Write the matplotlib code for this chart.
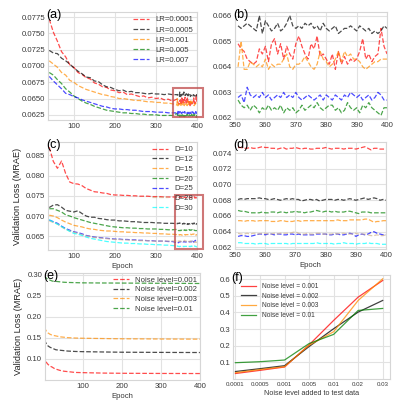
import numpy as np
import matplotlib.pyplot as plt
from matplotlib.patches import Rectangle

plt.rcParams['font.family'] = ['Liberation Sans', 'DejaVu Sans']

# ---- panel (a)/(b): learning rate ----
ep_coarse = np.arange(40, 341, 10)
ep_fine = np.arange(351, 401)
lr_labels = ['LR=0.0001', 'LR=0.0005', 'LR=0.001', 'LR=0.005', 'LR=0.007']
lr_colors = ['red', 'black', 'darkorange', 'green', 'blue']

a_red = [0.0772, 0.0752, 0.0738, 0.0722, 0.0714, 0.0702, 0.0698, 0.0690, 0.0687, 0.0682, 0.0680, 0.0674, 0.0672, 0.0668, 0.0667, 0.0663,
         0.0662, 0.0659, 0.0660, 0.0656, 0.0657, 0.0655, 0.0653, 0.0654, 0.0651, 0.0652, 0.0650, 0.0651, 0.0648, 0.0649, 0.0646]
a_black = [0.0724, 0.0720, 0.0719, 0.0712, 0.0708, 0.0703, 0.0697, 0.0692, 0.0688, 0.0683, 0.0682, 0.0677, 0.0676, 0.0671, 0.0668, 0.0667,
           0.0664, 0.0662, 0.0663, 0.0660, 0.0661, 0.0659, 0.0659, 0.0658, 0.0657, 0.0658, 0.0657, 0.0657, 0.0656, 0.0657, 0.0656]
a_orange = [0.0708, 0.0703, 0.0698, 0.0690, 0.0686, 0.0678, 0.0675, 0.0670, 0.0667, 0.0664, 0.0662, 0.0660, 0.0658, 0.0656, 0.0655, 0.0653,
            0.0652, 0.0650, 0.0650, 0.0649, 0.0648, 0.0647, 0.0647, 0.0646, 0.0645, 0.0645, 0.0644, 0.0644, 0.0643, 0.0643, 0.0642]
a_green = [0.0690, 0.0686, 0.0679, 0.0673, 0.0665, 0.0660, 0.0654, 0.0650, 0.0646, 0.0643, 0.0641, 0.0638, 0.0636, 0.0634, 0.0632, 0.0631,
           0.0630, 0.0629, 0.0628, 0.0628, 0.0627, 0.0627, 0.0626, 0.0626, 0.0625, 0.0625, 0.0625, 0.0624, 0.0624, 0.0624, 0.0624]
a_blue = [0.0684, 0.0677, 0.0671, 0.0665, 0.0658, 0.0656, 0.0653, 0.0651, 0.0648, 0.0646, 0.0644, 0.0642, 0.0640, 0.0638, 0.0637, 0.0635,
          0.0634, 0.0634, 0.0633, 0.0633, 0.0632, 0.0632, 0.0631, 0.0630, 0.0630, 0.0630, 0.0629, 0.0629, 0.0629, 0.0628, 0.0628]

b_red = [0.0649, 0.0647, 0.0646, 0.0643, 0.0642, 0.0641, 0.0642, 0.0647, 0.0645, 0.0648, 0.0642, 0.0649, 0.0651, 0.0645, 0.0649, 0.0643, 0.0648,
         0.0645, 0.0643, 0.0649, 0.0652, 0.0648, 0.0645, 0.0643, 0.0649, 0.0647, 0.0652, 0.0644, 0.0645, 0.0643, 0.0641, 0.0645, 0.0639, 0.0646,
         0.0641, 0.0644, 0.0641, 0.0643, 0.0642, 0.0643, 0.0646, 0.0651, 0.0643, 0.0645, 0.0642, 0.0644, 0.0645, 0.0655, 0.0648, 0.0645]
b_black = [0.0656, 0.0655, 0.0656, 0.0657, 0.0656, 0.0655, 0.0654, 0.0660, 0.0653, 0.0658, 0.0656, 0.0654, 0.0655, 0.0657, 0.0654, 0.0655,
           0.0657, 0.0660, 0.0656, 0.0655, 0.0656, 0.0655, 0.0657, 0.0656, 0.0657, 0.0655, 0.0656, 0.0654, 0.0657, 0.0655, 0.0654, 0.0655,
           0.0656, 0.0653, 0.0654, 0.0655, 0.0655, 0.0656, 0.0655, 0.0654, 0.0656, 0.0655, 0.0654, 0.0655, 0.0653, 0.0654, 0.0653, 0.0654,
           0.0656, 0.0655]
b_orange = [0.0640, 0.0650, 0.0639, 0.0639, 0.0642, 0.0641, 0.0640, 0.0641, 0.0640, 0.0643, 0.0639, 0.0641, 0.0640, 0.0641, 0.0641, 0.0643,
            0.0645, 0.0640, 0.0639, 0.0641, 0.0641, 0.0642, 0.0644, 0.0642, 0.0640, 0.0639, 0.0641, 0.0646, 0.0643, 0.0642, 0.0640, 0.0641,
            0.0643, 0.0646, 0.0642, 0.0646, 0.0644, 0.0645, 0.0643, 0.0643, 0.0642, 0.0640, 0.0639, 0.0640, 0.0641, 0.0642, 0.0642, 0.0643,
            0.0643, 0.0643]
b_green = [0.0627, 0.0625, 0.0624, 0.0625, 0.0623, 0.0625, 0.0624, 0.0622, 0.0624, 0.0623, 0.0625, 0.0623, 0.0624, 0.0623, 0.0625, 0.0622,
           0.0624, 0.0623, 0.0624, 0.0622, 0.0623, 0.0625, 0.0623, 0.0624, 0.0625, 0.0624, 0.0626, 0.0624, 0.0623, 0.0624, 0.0625, 0.0625,
           0.0623, 0.0624, 0.0622, 0.0623, 0.0626, 0.0624, 0.0623, 0.0624, 0.0622, 0.0625, 0.0624, 0.0626, 0.0624, 0.0623, 0.0622, 0.0621,
           0.0624, 0.0624]
b_blue = [0.0628, 0.0629, 0.0626, 0.0632, 0.0629, 0.0628, 0.0629, 0.0628, 0.0630, 0.0628, 0.0629, 0.0627, 0.0628, 0.0629, 0.0628, 0.0630,
          0.0628, 0.0629, 0.0628, 0.0630, 0.0628, 0.0627, 0.0628, 0.0629, 0.0628, 0.0627, 0.0628, 0.0629, 0.0627, 0.0629, 0.0628, 0.0627,
          0.0629, 0.0628, 0.0627, 0.0629, 0.0628, 0.0630, 0.0629, 0.0628, 0.0629, 0.0627, 0.0628, 0.0629, 0.0627, 0.0628, 0.0630, 0.0629,
          0.0627, 0.0627]

# ---- panel (c)/(d): D ----
d_labels = ['D=10', 'D=12', 'D=15', 'D=20', 'D=25', 'D=28', 'D=30']
d_colors = ['red', 'black', 'darkorange', 'green', 'blue', 'tan', 'cyan']

c_red = [0.0870, 0.0835, 0.0818, 0.0836, 0.0805, 0.0784, 0.0780, 0.0779, 0.0775, 0.0768, 0.0764, 0.0760, 0.0759, 0.0757, 0.0756, 0.0753,
         0.0752, 0.0752, 0.0751, 0.0751, 0.0750, 0.0750, 0.0749, 0.0749, 0.0749, 0.0748, 0.0748, 0.0748, 0.0747, 0.0747, 0.0747]
c_black = [0.0721, 0.0727, 0.0728, 0.0722, 0.0714, 0.0712, 0.0710, 0.0713, 0.0706, 0.0700, 0.0697, 0.0697, 0.0694, 0.0693, 0.0691, 0.0690,
           0.0690, 0.0688, 0.0688, 0.0687, 0.0686, 0.0686, 0.0685, 0.0684, 0.0684, 0.0684, 0.0683, 0.0683, 0.0682, 0.0682, 0.0682]
c_orange = [0.0702, 0.0700, 0.0696, 0.0690, 0.0685, 0.0681, 0.0677, 0.0675, 0.0673, 0.0670, 0.0668, 0.0667, 0.0665, 0.0664, 0.0663, 0.0663,
            0.0662, 0.0661, 0.0661, 0.0660, 0.0660, 0.0659, 0.0659, 0.0658, 0.0658, 0.0657, 0.0657, 0.0656, 0.0656, 0.0655, 0.0655]
c_green = [0.0718, 0.0718, 0.0714, 0.0710, 0.0703, 0.0700, 0.0696, 0.0693, 0.0690, 0.0687, 0.0684, 0.0682, 0.0680, 0.0678, 0.0676, 0.0674,
           0.0673, 0.0672, 0.0671, 0.0671, 0.0670, 0.0670, 0.0669, 0.0669, 0.0668, 0.0668, 0.0668, 0.0667, 0.0667, 0.0666, 0.0666]
c_blue = [0.0690, 0.0686, 0.0682, 0.0675, 0.0669, 0.0665, 0.0661, 0.0659, 0.0656, 0.0652, 0.0650, 0.0648, 0.0647, 0.0646, 0.0645, 0.0644,
          0.0643, 0.0643, 0.0642, 0.0642, 0.0641, 0.0641, 0.0640, 0.0640, 0.0639, 0.0639, 0.0638, 0.0638, 0.0638, 0.0637, 0.0637]
c_tan = [0.0688, 0.0684, 0.0680, 0.0673, 0.0667, 0.0663, 0.0660, 0.0657, 0.0654, 0.0651, 0.0649, 0.0647, 0.0646, 0.0645, 0.0644, 0.0643,
         0.0642, 0.0642, 0.0641, 0.0641, 0.0640, 0.0640, 0.0639, 0.0639, 0.0639, 0.0638, 0.0638, 0.0638, 0.0638, 0.0638, 0.0638]
c_cyan = [0.0691, 0.0685, 0.0680, 0.0674, 0.0668, 0.0662, 0.0657, 0.0655, 0.0652, 0.0648, 0.0645, 0.0643, 0.0641, 0.0639, 0.0637, 0.0636,
          0.0635, 0.0634, 0.0633, 0.0633, 0.0632, 0.0632, 0.0631, 0.0631, 0.0630, 0.0630, 0.0629, 0.0629, 0.0628, 0.0628, 0.0627]

d_red = [0.0747, 0.0747, 0.0746, 0.0746, 0.0747, 0.0746, 0.0746, 0.0747, 0.0748, 0.0747, 0.0747, 0.0746, 0.0746, 0.0745, 0.0746, 0.0747,
         0.0745, 0.0746, 0.0746, 0.0747, 0.0746, 0.0745, 0.0746, 0.0746, 0.0745, 0.0745, 0.0746, 0.0746, 0.0746, 0.0747, 0.0746, 0.0745,
         0.0746, 0.0746, 0.0746, 0.0745, 0.0746, 0.0746, 0.0746, 0.0745, 0.0746, 0.0747, 0.0748, 0.0746, 0.0744, 0.0746, 0.0746, 0.0745,
         0.0745, 0.0745]
d_black = [0.0681, 0.0682, 0.0681, 0.0682, 0.0682, 0.0682, 0.0682, 0.0683, 0.0682, 0.0682, 0.0681, 0.0681, 0.0682, 0.0681, 0.0680, 0.0681,
           0.0682, 0.0681, 0.0682, 0.0681, 0.0681, 0.0679, 0.0680, 0.0681, 0.0681, 0.0680, 0.0681, 0.0679, 0.0680, 0.0681, 0.0681, 0.0681,
           0.0680, 0.0681, 0.0681, 0.0680, 0.0681, 0.0682, 0.0681, 0.0680, 0.0681, 0.0682, 0.0683, 0.0681, 0.0682, 0.0683, 0.0682, 0.0680,
           0.0681, 0.0680]
d_orange = [0.0654, 0.0654, 0.0653, 0.0654, 0.0654, 0.0654, 0.0653, 0.0654, 0.0654, 0.0654, 0.0654, 0.0653, 0.0653, 0.0653, 0.0654, 0.0654,
            0.0653, 0.0653, 0.0653, 0.0654, 0.0654, 0.0653, 0.0654, 0.0654, 0.0654, 0.0654, 0.0654, 0.0654, 0.0654, 0.0654, 0.0654, 0.0654,
            0.0654, 0.0655, 0.0654, 0.0654, 0.0654, 0.0655, 0.0655, 0.0655, 0.0655, 0.0655, 0.0656, 0.0656, 0.0654, 0.0652, 0.0653, 0.0653,
            0.0654, 0.0654]
d_green = [0.0667, 0.0666, 0.0666, 0.0665, 0.0664, 0.0664, 0.0664, 0.0664, 0.0665, 0.0664, 0.0664, 0.0665, 0.0665, 0.0664, 0.0665, 0.0665,
           0.0664, 0.0665, 0.0665, 0.0666, 0.0665, 0.0665, 0.0664, 0.0665, 0.0665, 0.0666, 0.0667, 0.0666, 0.0665, 0.0666, 0.0666, 0.0665,
           0.0666, 0.0665, 0.0665, 0.0665, 0.0666, 0.0666, 0.0665, 0.0664, 0.0663, 0.0665, 0.0665, 0.0665, 0.0664, 0.0664, 0.0664, 0.0664,
           0.0664, 0.0664]
d_blue = [0.0634, 0.0635, 0.0635, 0.0634, 0.0634, 0.0635, 0.0636, 0.0637, 0.0637, 0.0636, 0.0637, 0.0637, 0.0636, 0.0637, 0.0637, 0.0636,
          0.0636, 0.0637, 0.0637, 0.0636, 0.0637, 0.0636, 0.0636, 0.0636, 0.0636, 0.0636, 0.0637, 0.0637, 0.0637, 0.0637, 0.0636, 0.0636,
          0.0637, 0.0637, 0.0636, 0.0636, 0.0637, 0.0638, 0.0637, 0.0634, 0.0636, 0.0637, 0.0636, 0.0637, 0.0639, 0.0640, 0.0638, 0.0637,
          0.0636, 0.0636]
d_tan = [0.0638, 0.0637, 0.0637, 0.0638, 0.0637, 0.0638, 0.0638, 0.0637, 0.0638, 0.0638, 0.0637, 0.0637, 0.0638, 0.0637, 0.0638, 0.0638,
         0.0638, 0.0638, 0.0639, 0.0640, 0.0638, 0.0637, 0.0637, 0.0638, 0.0637, 0.0637, 0.0638, 0.0638, 0.0637, 0.0637, 0.0637, 0.0637,
         0.0638, 0.0637, 0.0638, 0.0638, 0.0637, 0.0637, 0.0637, 0.0638, 0.0637, 0.0637, 0.0637, 0.0636, 0.0635, 0.0635, 0.0636, 0.0635,
         0.0635, 0.0636]
d_cyan = [0.0626, 0.0626, 0.0625, 0.0625, 0.0625, 0.0625, 0.0624, 0.0625, 0.0625, 0.0625, 0.0624, 0.0625, 0.0625, 0.0625, 0.0625, 0.0625,
          0.0625, 0.0624, 0.0625, 0.0625, 0.0625, 0.0625, 0.0625, 0.0625, 0.0625, 0.0625, 0.0626, 0.0625, 0.0625, 0.0625, 0.0625, 0.0625,
          0.0624, 0.0625, 0.0625, 0.0626, 0.0625, 0.0625, 0.0625, 0.0624, 0.0625, 0.0625, 0.0625, 0.0626, 0.0625, 0.0625, 0.0625, 0.0624,
          0.0624, 0.0624]

# ---- panel (e): noise level in training ----
ep_e = [1, 3, 5, 8, 10, 15, 20, 25, 30, 40, 50, 60, 80, 100, 150, 200, 250, 300, 350, 400]
e_labels = ['Noise level=0.001', 'Noise level=0.002', 'Noise level=0.003', 'Noise level=0.01']
e_colors = ['red', 'black', 'darkorange', 'green']
e_001 = [0.108, 0.098, 0.092, 0.088, 0.086, 0.082, 0.080, 0.077, 0.075, 0.072, 0.070, 0.069, 0.067, 0.0665, 0.0655, 0.065, 0.0648, 0.0646, 0.0645, 0.0644]
e_002 = [0.145, 0.140, 0.136, 0.132, 0.130, 0.127, 0.125, 0.123, 0.121, 0.120, 0.119, 0.118, 0.117, 0.1165, 0.1158, 0.1152, 0.115, 0.1148, 0.1146, 0.1145]
e_003 = [0.175, 0.170, 0.166, 0.163, 0.161, 0.158, 0.156, 0.155, 0.154, 0.152, 0.151, 0.150, 0.149, 0.1485, 0.1478, 0.1472, 0.147, 0.1467, 0.1465, 0.1463]
e_01 = [0.298, 0.295, 0.292, 0.290, 0.289, 0.287, 0.285, 0.284, 0.284, 0.283, 0.282, 0.2815, 0.281, 0.2805, 0.2802, 0.280, 0.2798, 0.2795, 0.2793, 0.279]

# ---- panel (f): test with noise ----
test_noise = ['0.0001', '0.0005', '0.001', '0.005', '0.01', '0.02', '0.03']
f_labels = ['Noise level = 0.001', 'Noise level = 0.002', 'Noise level = 0.003', 'Noise level = 0.01']
f_001 = [0.033, 0.052, 0.072, 0.205, 0.352, 0.492, 0.592]
f_002 = [0.045, 0.062, 0.080, 0.195, 0.302, 0.402, 0.472]
f_003 = [0.038, 0.057, 0.074, 0.203, 0.284, 0.472, 0.602]
f_01 = [0.098, 0.104, 0.114, 0.213, 0.268, 0.412, 0.424]

txt = '#3a3a3a'
grid_c = '#e2e2e2'


def style(ax, fs=5.6):
    ax.set_facecolor('white')
    ax.grid(True, color=grid_c, linewidth=0.8)
    ax.set_axisbelow(True)
    for s in ax.spines.values():
        s.set_color('#d6d6d6')
        s.set_linewidth(0.8)
    ax.tick_params(length=0, labelsize=fs, labelcolor=txt, pad=2)


def panel_tag(ax, t):
    ax.text(-0.01, 0.975, t, transform=ax.transAxes, fontsize=9, color='black', ha='left', va='center', zorder=10)


def leg(ax, fs, sp, loc='upper right', hl=2.0, pad=0.1):
    ax.legend(loc=loc, frameon=False, fontsize=fs, labelspacing=sp, handlelength=hl,
              handletextpad=0.8, borderpad=0.4, borderaxespad=pad, labelcolor=txt)


fig = plt.figure(figsize=(3.98, 4.0), dpi=100)
fig.patch.set_facecolor('white')

ax_a = fig.add_axes([0.1206, 0.700, 0.3744, 0.270])
ax_b = fig.add_axes([0.5905, 0.7025, 0.3820, 0.2675])
ax_c = fig.add_axes([0.1206, 0.375, 0.3744, 0.270])
ax_d = fig.add_axes([0.5905, 0.3775, 0.3795, 0.2675])
ax_e = fig.add_axes([0.1130, 0.050, 0.3894, 0.2675])
ax_f = fig.add_axes([0.5855, 0.0525, 0.3945, 0.2600])

# (a)
a_series = [a_red + b_red, a_black + b_black, a_orange + b_orange, a_green + b_green, a_blue + b_blue]
ep_a = np.concatenate([ep_coarse, ep_fine])
for vals, c, lab in zip(a_series, lr_colors, lr_labels):
    ax_a.plot(ep_a, vals, '--', color=c, alpha=0.7, linewidth=0.9, label=lab)
style(ax_a)
ax_a.set_xlim(37, 400)
ax_a.set_ylim(0.0617, 0.0783)
ax_a.set_xticks([100, 200, 300, 400])
ax_a.set_yticks(np.arange(0.0625, 0.0776, 0.0025))
ax_a.yaxis.set_major_formatter(plt.FormatStrFormatter('%.4f'))
leg(ax_a, 5.6, 0.35)
ax_a.add_patch(Rectangle((341, 0.0622), 73, 0.00443, fill=False, edgecolor='#c04a4a', alpha=0.75,
                         linewidth=1.5, clip_on=False, zorder=5))
panel_tag(ax_a, '(a)')

# (b)
for vals, c in zip([b_red, b_black, b_orange, b_green, b_blue], lr_colors):
    ax_b.plot(ep_fine, vals, '--', color=c, alpha=0.7, linewidth=0.9)
style(ax_b)
ax_b.set_xlim(350, 400)
ax_b.set_ylim(0.06196, 0.06614)
ax_b.set_xticks(np.arange(350, 401, 10))
ax_b.set_yticks([0.062, 0.063, 0.064, 0.065, 0.066])
ax_b.yaxis.set_major_formatter(plt.FormatStrFormatter('%.3f'))
panel_tag(ax_b, '(b)')

# (c)
c_series = [c_red + d_red, c_black + d_black, c_orange + d_orange, c_green + d_green,
            c_blue + d_blue, c_tan + d_tan, c_cyan + d_cyan]
for vals, c, lab in zip(c_series, d_colors, d_labels):
    ax_c.plot(ep_a, vals, '--', color=c, alpha=0.7, linewidth=0.9, label=lab)
style(ax_c)
ax_c.set_xlim(37, 400)
ax_c.set_ylim(0.0616, 0.0883)
ax_c.set_xticks([100, 200, 300, 400])
ax_c.set_yticks([0.065, 0.070, 0.075, 0.080, 0.085])
ax_c.yaxis.set_major_formatter(plt.FormatStrFormatter('%.3f'))
ax_c.set_xlabel('Epoch', fontsize=5.6, color=txt, labelpad=2)
ax_c.set_ylabel('Validation Loss (MRAE)', fontsize=6.6, color='#222222', labelpad=3)
leg(ax_c, 5.6, 0.3)
ax_c.add_patch(Rectangle((346, 0.0618), 68, 0.0133, fill=False, edgecolor='#c04a4a', alpha=0.75,
                         linewidth=1.5, clip_on=False, zorder=5))
panel_tag(ax_c, '(c)')

# (d)
for vals, c in zip([d_red, d_black, d_orange, d_green, d_blue, d_tan, d_cyan], d_colors):
    ax_d.plot(ep_fine, vals, '--', color=c, alpha=0.7, linewidth=0.9)
style(ax_d)
ax_d.set_xlim(350, 400)
ax_d.set_ylim(0.0618, 0.0754)
ax_d.set_xticks(np.arange(350, 401, 10))
ax_d.set_yticks(np.arange(0.062, 0.0745, 0.002))
ax_d.yaxis.set_major_formatter(plt.FormatStrFormatter('%.3f'))
ax_d.set_xlabel('Epoch', fontsize=5.6, color=txt, labelpad=2)
panel_tag(ax_d, '(d)')

# (e)
for vals, c, lab in zip([e_001, e_002, e_003, e_01], e_colors, e_labels):
    ax_e.plot(ep_e, vals, '--', color=c, alpha=0.7, linewidth=0.9, label=lab)
style(ax_e)
ax_e.set_xlim(2, 400)
ax_e.set_ylim(0.049, 0.304)
ax_e.set_xticks([100, 200, 300, 400])
ax_e.set_yticks([0.10, 0.15, 0.20, 0.25, 0.30])
ax_e.yaxis.set_major_formatter(plt.FormatStrFormatter('%.2f'))
ax_e.set_xlabel('Epoch', fontsize=5.6, color=txt, labelpad=2)
ax_e.set_ylabel('Validation Loss (MRAE)', fontsize=6.6, color='#222222', labelpad=3)
leg(ax_e, 5.6, 0.3, pad=0.0)
panel_tag(ax_e, '(e)')

# (f)
xf = np.arange(len(test_noise))
for vals, c, lab in zip([f_001, f_002, f_003, f_01], e_colors, f_labels):
    ax_f.plot(xf, vals, '-', color=c, alpha=0.75, linewidth=0.9, label=lab)
style(ax_f)
ax_f.set_xlim(-0.1, 6.3)
ax_f.set_ylim(0.0, 0.625)
ax_f.set_xticks(xf)
ax_f.set_xticklabels(test_noise)
ax_f.set_yticks([0.1, 0.2, 0.3, 0.4, 0.5, 0.6])
ax_f.tick_params(axis='x', labelsize=4.4)
ax_f.set_xlabel('Noise level added to test data', fontsize=5.2, color=txt, labelpad=2)
leg(ax_f, 4.8, 0.4, loc='upper left', hl=2.3, pad=0.8)
panel_tag(ax_f, '(f)')

fig.savefig('out.png', dpi=100, facecolor='white')
